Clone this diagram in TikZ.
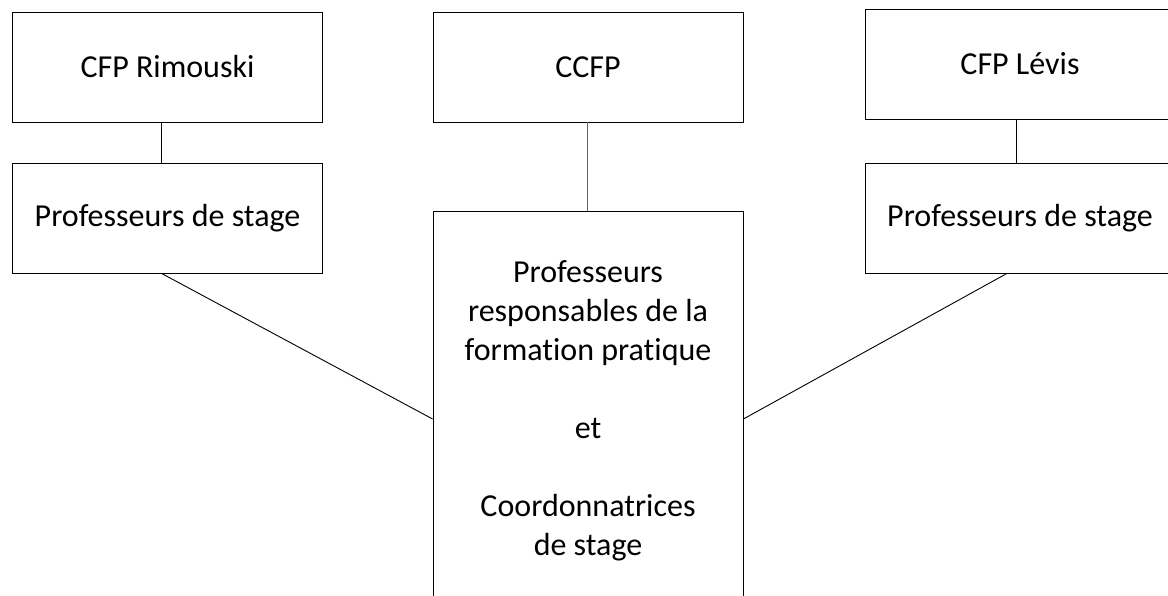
\documentclass[tikz,border=0pt]{standalone}
\usepackage{fontspec}
\setmainfont{Carlito}[Ligatures=NoCommon]
\usepackage{tikz}
\usetikzlibrary{positioning, calc}
\tikzset{
    % Organisation chart
    orgbox/.style={rectangle, draw=black, line width=0.8pt, fill=white,
                minimum width=310pt, minimum height=110pt, align=center,
                font=\fontsize{32}{39}\selectfont, inner sep=0pt},
    orgline/.style={line width=0.9pt, black},
    orggray/.style={line width=0.9pt, gray!80!black},
}
\begin{document}
\begin{tikzpicture}[x=1pt, y=-1pt]
\clip (0,0) rectangle (1168,596);
\fill[white] (0,0) rectangle (1168,596);
\node[orgbox] (rim) at (167.5,67) {CFP Rimouski};
\node[orgbox] (ccfp) at (588,67) {CCFP};
\node[orgbox] (lev) at (1020,64) {CFP Lévis};
\node[orgbox] (profl) at (167.5,218) {Professeurs de stage};
\node[orgbox] (profr) at (1020,218) {Professeurs de stage};
\node[orgbox, minimum height=400pt] (resp) at (588,411) {Professeurs\\responsables de la\\formation pratique\\[39pt]et\\[39pt]Coordonnatrices\\de stage};
\draw[orgline] ([xshift=-6pt]rim.south) -- ([xshift=-6pt]profl.north);
\draw[orggray] ([xshift=-1pt]ccfp.south) -- ([xshift=-1pt]resp.north);
\draw[orgline] ([xshift=-4pt]lev.south) -- ([xshift=-4pt]profr.north);
\draw[orgline] ([xshift=-6pt]profl.south) -- ([yshift=-8pt]resp.west);
\draw[orgline] ([xshift=-13pt]profr.south) -- ([yshift=-8pt]resp.east);
\end{tikzpicture}
\end{document}
